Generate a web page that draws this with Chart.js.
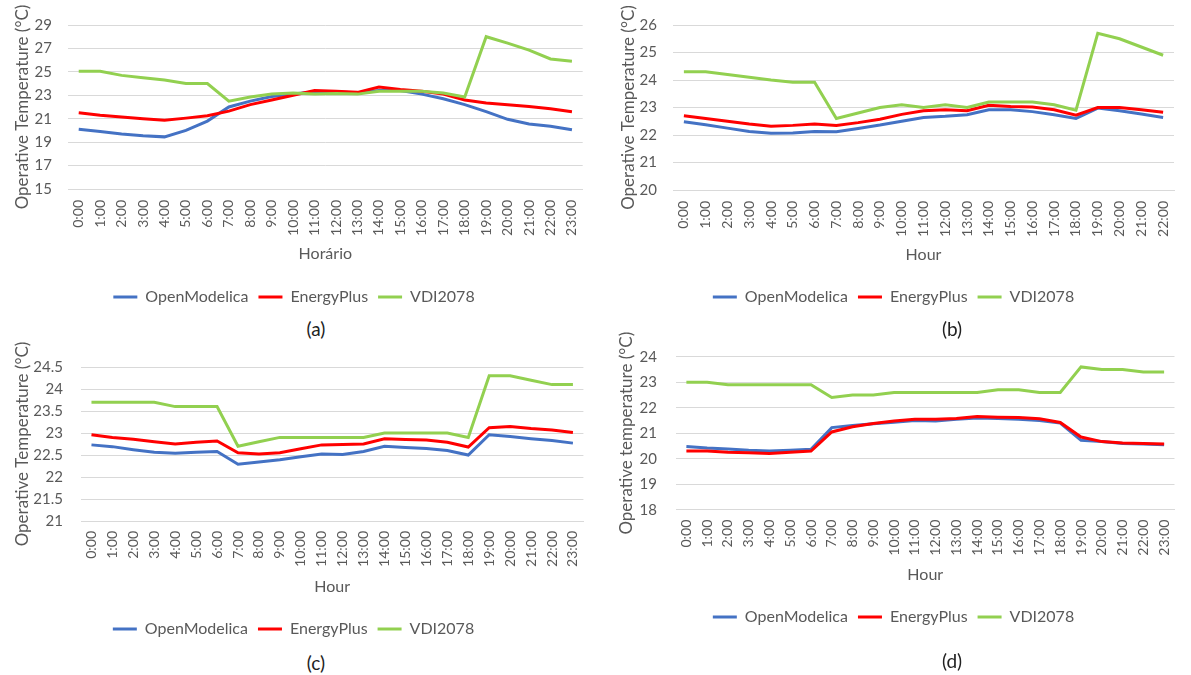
<!DOCTYPE html>
<html>
<head>
<meta charset="utf-8">
<script src="https://cdn.jsdelivr.net/npm/chart.js@4/dist/chart.umd.min.js"></script>
<style>
  html, body { margin: 0; padding: 0; background: #fff; }
  body { width: 1191px; height: 675px; position: relative; overflow: hidden; font-family: Lato, "Open Sans", sans-serif; }
  canvas { position: absolute; }
  .cap { position: absolute; transform: translate(-50%, -50%); font-size: 19px; color: #222; }
</style>
</head>
<body>
<canvas id="chA" width="600" height="315" style="left:0;top:0"></canvas>
<canvas id="chB" width="591" height="315" style="left:600px;top:0"></canvas>
<canvas id="chC" width="600" height="307" style="left:0;top:340px"></canvas>
<canvas id="chD" width="591" height="315" style="left:600px;top:320px"></canvas>
<div class="cap" style="left:316px;top:328px">(a)</div>
<div class="cap" style="left:952px;top:328px">(b)</div>
<div class="cap" style="left:316px;top:662px">(c)</div>
<div class="cap" style="left:952px;top:660px">(d)</div>
<script>
// Hour labels
const hours = ["0:00","1:00","2:00","3:00","4:00","5:00","6:00","7:00","8:00","9:00","10:00","11:00",
               "12:00","13:00","14:00","15:00","16:00","17:00","18:00","19:00","20:00","21:00","22:00","23:00"];
const hoursB = ["0:00","1:00","2:00","3:00","4:00","5:00","6:00","7:00","8:00","9:00","10:00","11:00",
                "12:00","13:00","14:00","15:00","16:00","17:00","18:00","19:00","20:00","21:00","22:00"];

const seriesNames = ["OpenModelica", "EnergyPlus", "VDI2078"];

// (a) operative temperature, °C
const openModelicaA = [20.1,19.9,19.7,19.55,19.45,20.0,20.8,22.0,22.5,22.9,23.1,23.3,23.3,23.2,23.4,23.4,23.1,22.7,22.2,21.6,20.95,20.55,20.35,20.05];
const energyPlusA   = [21.5,21.3,21.15,21.0,20.87,21.05,21.25,21.65,22.2,22.6,23.0,23.4,23.35,23.25,23.7,23.5,23.35,23.1,22.6,22.35,22.2,22.05,21.85,21.6];
const vdi2078A      = [25.05,25.05,24.7,24.5,24.3,24.0,24.0,22.5,22.85,23.1,23.2,23.1,23.15,23.1,23.35,23.35,23.35,23.2,22.85,28.0,27.45,26.85,26.1,25.9];

// (b)
const openModelicaB = [22.48,22.37,22.25,22.13,22.06,22.07,22.13,22.12,22.24,22.36,22.5,22.64,22.68,22.74,22.92,22.92,22.85,22.74,22.6,22.98,22.88,22.76,22.64];
const energyPlusB   = [22.7,22.6,22.5,22.4,22.32,22.35,22.4,22.35,22.45,22.57,22.75,22.88,22.92,22.88,23.08,23.04,23.02,22.92,22.72,23.0,23.0,22.92,22.83];
const vdi2078B      = [24.3,24.3,24.2,24.1,24.0,23.92,23.92,22.6,22.8,23.0,23.1,23.0,23.1,23.0,23.2,23.2,23.2,23.1,22.9,25.7,25.5,25.2,24.9];

// (c)
const openModelicaC = [22.73,22.69,22.62,22.56,22.54,22.56,22.58,22.29,22.34,22.39,22.46,22.52,22.51,22.58,22.7,22.67,22.65,22.6,22.5,22.96,22.92,22.87,22.83,22.77];
const energyPlusC   = [22.96,22.9,22.86,22.8,22.75,22.79,22.82,22.55,22.52,22.55,22.64,22.73,22.74,22.75,22.87,22.85,22.84,22.79,22.68,23.12,23.15,23.1,23.07,23.01];
const vdi2078C      = [23.7,23.7,23.7,23.7,23.6,23.6,23.6,22.7,22.8,22.9,22.9,22.9,22.9,22.9,23.0,23.0,23.0,23.0,22.9,24.3,24.3,24.2,24.1,24.1];

// (d)
const openModelicaD = [20.48,20.42,20.38,20.33,20.3,20.33,20.37,21.22,21.3,21.37,21.43,21.5,21.48,21.55,21.6,21.58,21.55,21.5,21.4,20.72,20.67,20.6,20.58,20.55];
const energyPlusD   = [20.3,20.3,20.25,20.23,20.2,20.25,20.3,21.05,21.25,21.38,21.48,21.55,21.55,21.58,21.65,21.63,21.62,21.57,21.42,20.85,20.67,20.62,20.6,20.58];
const vdi2078D      = [23.0,23.0,22.9,22.9,22.9,22.9,22.9,22.4,22.5,22.5,22.6,22.6,22.6,22.6,22.6,22.7,22.7,22.6,22.6,23.6,23.5,23.5,23.4,23.4];

const lineColors = ["#4472C4", "#FF0000", "#92D050"];
const gridColor = "#d9d9d9";
const textColor = "#595959";

Chart.defaults.font.family = "Lato, 'Open Sans', sans-serif";
Chart.defaults.color = textColor;

function makeChart(id, labels, series, xTitle, yTitle, yRange, box) {
  const datasets = series.map((values, i) => ({
    label: seriesNames[i],
    data: values,
    borderColor: lineColors[i],
    backgroundColor: lineColors[i],
    borderWidth: 3,
    pointRadius: 0,
    tension: 0,
    order: 3 - i
  }));
  return new Chart(document.getElementById(id), {
    type: "line",
    data: { labels, datasets },
    options: {
      responsive: false,
      animation: false,
      devicePixelRatio: 1,
      layout: { padding: { top: box.top, right: box.right, left: 0, bottom: 0 } },
      plugins: {
        tooltip: { enabled: false },
        legend: {
          position: "bottom",
          labels: {
            boxWidth: 24,
            boxHeight: 3,
            padding: 10,
            color: textColor,
            font: { size: 16 },
            sort: (a, b) => a.datasetIndex - b.datasetIndex,
            generateLabels: (chart) =>
              Chart.defaults.plugins.legend.labels.generateLabels(chart).map(it => ({ ...it, lineWidth: 0 }))
          }
        }
      },
      scales: {
        x: {
          offset: true,
          grid: { display: false, drawTicks: false },
          border: { display: true, color: gridColor },
          ticks: { minRotation: 90, maxRotation: 90, autoSkip: false, padding: box.xPad, font: { size: 14 }, color: textColor },
          title: { display: true, text: xTitle, font: { size: 16 }, color: textColor, padding: { top: 0, bottom: box.xTitlePad } },
          afterFit: (s) => { s.height = box.xHeight; }
        },
        y: {
          min: yRange[0],
          max: yRange[1],
          grid: { color: gridColor, drawTicks: false },
          border: { display: false },
          ticks: { stepSize: yRange[2], padding: box.yPad, font: { size: 15 }, color: textColor,
                   callback: (v) => String(Math.round(v * 10) / 10) },
          title: { display: true, text: yTitle, font: { size: 17 }, color: textColor, padding: { top: box.yTitlePad, bottom: 0 } },
          afterFit: (s) => { s.width = box.yWidth; }
        }
      }
    }
  });
}

makeChart("chA", hours, [openModelicaA, energyPlusA, vdi2078A], "Horário", "Operative Temperature (°C)", [15, 29, 2],
  { top: 15, right: 12, yWidth: 68, yPad: 16, yTitlePad: 12, xHeight: 90, xPad: 11, xTitlePad: 15.6 });
makeChart("chB", hoursB, [openModelicaB, energyPlusB, vdi2078B], "Hour", "Operative Temperature (°C)", [20, 26, 1],
  { top: 19.5, right: 4, yWidth: 73, yPad: 16, yTitlePad: 18, xHeight: 89, xPad: 11, xTitlePad: 15 });
makeChart("chC", hours, [openModelicaC, energyPlusC, vdi2078C], "Hour", "Operative Temperature (°C)", [21, 24.5, 0.5],
  { top: 16, right: 13, yWidth: 81, yPad: 18, yTitlePad: 12, xHeight: 90, xPad: 10, xTitlePad: 14.6 });
makeChart("chD", hours, [openModelicaD, energyPlusD, vdi2078D], "Hour", "Operative temperature (°C)", [18, 24, 1],
  { top: 36.7, right: 4, yWidth: 76, yPad: 19, yTitlePad: 16, xHeight: 89.3, xPad: 10, xTitlePad: 14.6 });
</script>
</body>
</html>
